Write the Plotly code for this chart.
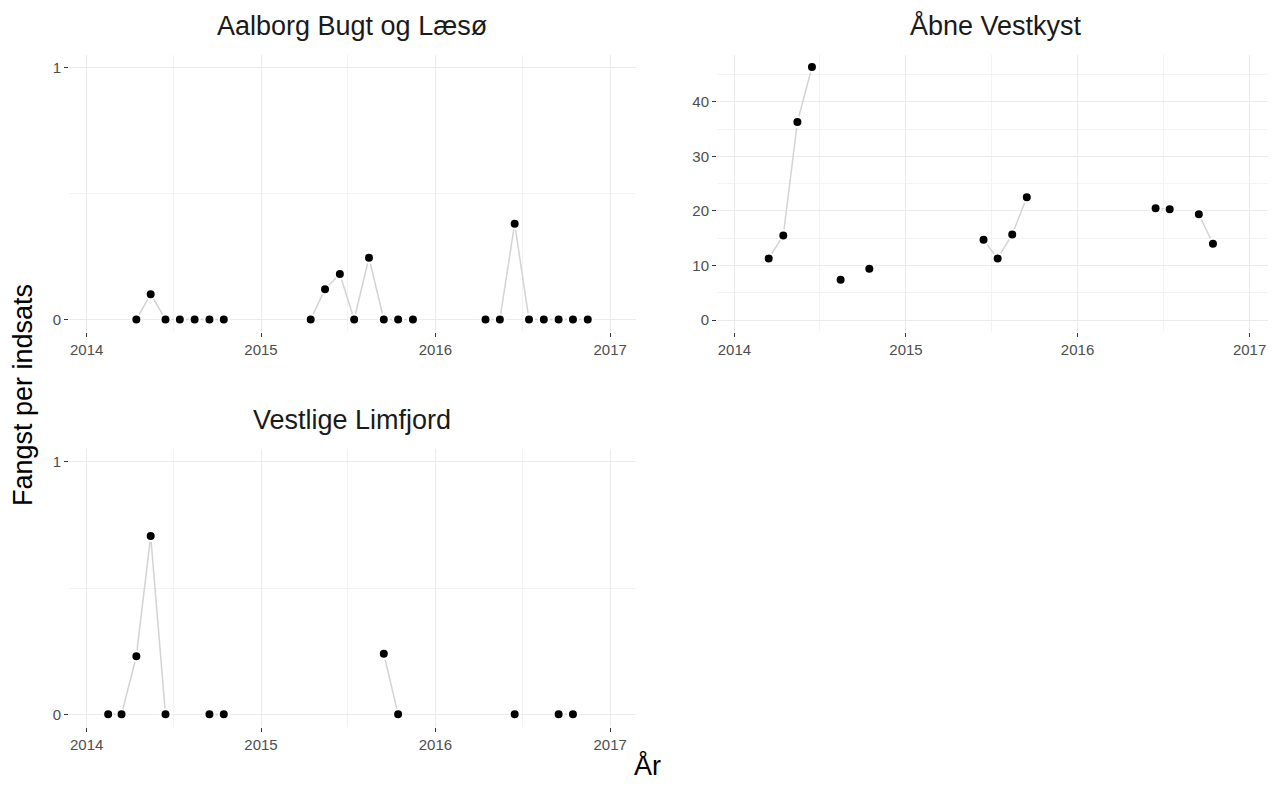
import pandas as pd
import plotly.graph_objects as go

# monthly catch per effort, one list per area (only months that were sampled)
aalborg_months = ['2014-04', '2014-05', '2014-06', '2014-07', '2014-08', '2014-09', '2014-10',
                  '2015-04', '2015-05', '2015-06', '2015-07', '2015-08', '2015-09', '2015-10', '2015-11',
                  '2016-04', '2016-05', '2016-06', '2016-07', '2016-08', '2016-09', '2016-10', '2016-11']
aalborg_values = [0, 0.10, 0, 0, 0, 0, 0,
                  0, 0.12, 0.18, 0, 0.245, 0, 0, 0,
                  0, 0, 0.38, 0, 0, 0, 0, 0]

vestkyst_months = ['2014-03', '2014-04', '2014-05', '2014-06', '2014-08', '2014-10',
                   '2015-06', '2015-07', '2015-08', '2015-09',
                   '2016-06', '2016-07', '2016-09', '2016-10']
vestkyst_values = [11.3, 15.5, 36.3, 46.4, 7.4, 9.4,
                   14.7, 11.3, 15.7, 22.5,
                   20.5, 20.3, 19.4, 14.0]

limfjord_months = ['2014-02', '2014-03', '2014-04', '2014-05', '2014-06', '2014-09', '2014-10',
                   '2015-09', '2015-10',
                   '2016-06', '2016-09', '2016-10']
limfjord_values = [0, 0, 0.23, 0.706, 0, 0, 0,
                   0.24, 0,
                   0, 0, 0]

panels = [
    ('Aalborg Bugt og Læsø', aalborg_months, aalborg_values, 'x', 'y'),
    ('Åbne Vestkyst', vestkyst_months, vestkyst_values, 'x2', 'y2'),
    ('Vestlige Limfjord', limfjord_months, limfjord_values, 'x3', 'y3'),
]


def mid_month(m):
    return pd.Period(m, 'M').to_timestamp() + pd.Timedelta(days=14)


def with_gaps(months, values):
    # break the line where a month is missing
    per = pd.PeriodIndex(months, freq='M')
    xs, ys = [], []
    for i, (p, v) in enumerate(zip(per, values)):
        if i > 0 and (p - per[i - 1]).n > 1:
            xs.append(None)
            ys.append(None)
        xs.append(p.to_timestamp() + pd.Timedelta(days=14))
        ys.append(v)
    return xs, ys


fig = go.Figure()
for name, months, values, xa, ya in panels:
    lx, ly = with_gaps(months, values)
    fig.add_trace(go.Scatter(x=lx, y=ly, mode='lines', xaxis=xa, yaxis=ya,
                             line=dict(color='#D3D3D3', width=1.5),
                             connectgaps=False, showlegend=False, hoverinfo='skip'))
    fig.add_trace(go.Scatter(x=[mid_month(m) for m in months], y=values, mode='markers',
                             xaxis=xa, yaxis=ya,
                             marker=dict(color='black', size=10, line=dict(color='white', width=2)),
                             showlegend=False, name=name))

FONT = 'Liberation Sans, Arial, sans-serif'
grid = '#EBEBEB'
minor_grid = '#F3F3F3'
tickfont = dict(family=FONT, size=15, color='#4D4D4D')

# the page puts the figure 8px in from the top-left corner
OFF = 8
W, H = 1260, 775


def fx(px):
    return (px - OFF) / W


def fy(py):
    return 1 - (py - OFF) / H


x_start = pd.Timestamp('2013-11-25')
x_end = pd.Timestamp('2017-02-24')
# right panel runs past the page edge in the original, so cut its range a bit
right_edge = min(1275, OFF + W)
x_end2 = x_start + (x_end - x_start) * ((right_edge - 717) / (1275 - 717))


def xaxis(domain, anchor, end):
    return dict(domain=domain, anchor=anchor, type='date', range=[x_start, end],
                tick0='2014-01-01', dtick='M12', tickformat='%Y',
                showgrid=True, gridcolor=grid, gridwidth=1.3, zeroline=False,
                ticks='outside', ticklen=4, tickwidth=1.2, tickcolor='#333333',
                tickfont=tickfont, showline=False,
                minor=dict(dtick='M6', showgrid=True, gridcolor=minor_grid, gridwidth=1))


def yaxis(domain, anchor, rng, dtick, minor_dtick):
    return dict(domain=domain, anchor=anchor, range=rng, tick0=0, dtick=dtick,
                showgrid=True, gridcolor=grid, gridwidth=1.3, zeroline=False,
                ticks='outside', ticklen=4, tickwidth=1.2, tickcolor='#333333',
                tickfont=tickfont, showline=False,
                minor=dict(tick0=0, dtick=minor_dtick, showgrid=True, gridcolor=minor_grid, gridwidth=1))


d1x = [fx(69), fx(636)]
d2x = [fx(717), fx(right_edge)]
top_y = [fy(332), fy(55)]
bot_y = [fy(727), fy(449)]

fig.update_layout(
    width=W, height=H,
    margin=dict(l=0, r=0, t=0, b=0),
    paper_bgcolor='white', plot_bgcolor='white',
    font=dict(family=FONT, color='#1A1A1A'),
    xaxis=xaxis(d1x, 'y', x_end),
    yaxis=yaxis(top_y, 'x', [-0.05, 1.05], 1, 0.5),
    xaxis2=xaxis(d2x, 'y2', x_end2),
    yaxis2=yaxis(top_y, 'x2', [-2.2, 48.6], 10, 5),
    xaxis3=xaxis(d1x, 'y3', x_end),
    yaxis3=yaxis(bot_y, 'x3', [-0.05, 1.05], 1, 0.5),
)

title_font = dict(family=FONT, size=27, color='#1A1A1A')
strip_pos = [(fx(352), fy(26)), (fx(996), fy(26)), (fx(352), fy(420))]
for (name, *_), (sx, sy) in zip(panels, strip_pos):
    fig.add_annotation(text=name, x=sx, y=sy, xref='paper', yref='paper',
                       showarrow=False, xanchor='center', yanchor='middle', font=title_font)

axis_font = dict(family=FONT, size=27, color='black')
fig.add_annotation(text='Fangst per indsats', x=fx(23), y=fy(395), xref='paper', yref='paper',
                   showarrow=False, textangle=-90, xanchor='center', yanchor='middle', font=axis_font)
fig.add_annotation(text='År', x=fx(647), y=0, xref='paper', yref='paper',
                   showarrow=False, xanchor='center', yanchor='bottom', font=axis_font)

fig.write_html('out.html')
